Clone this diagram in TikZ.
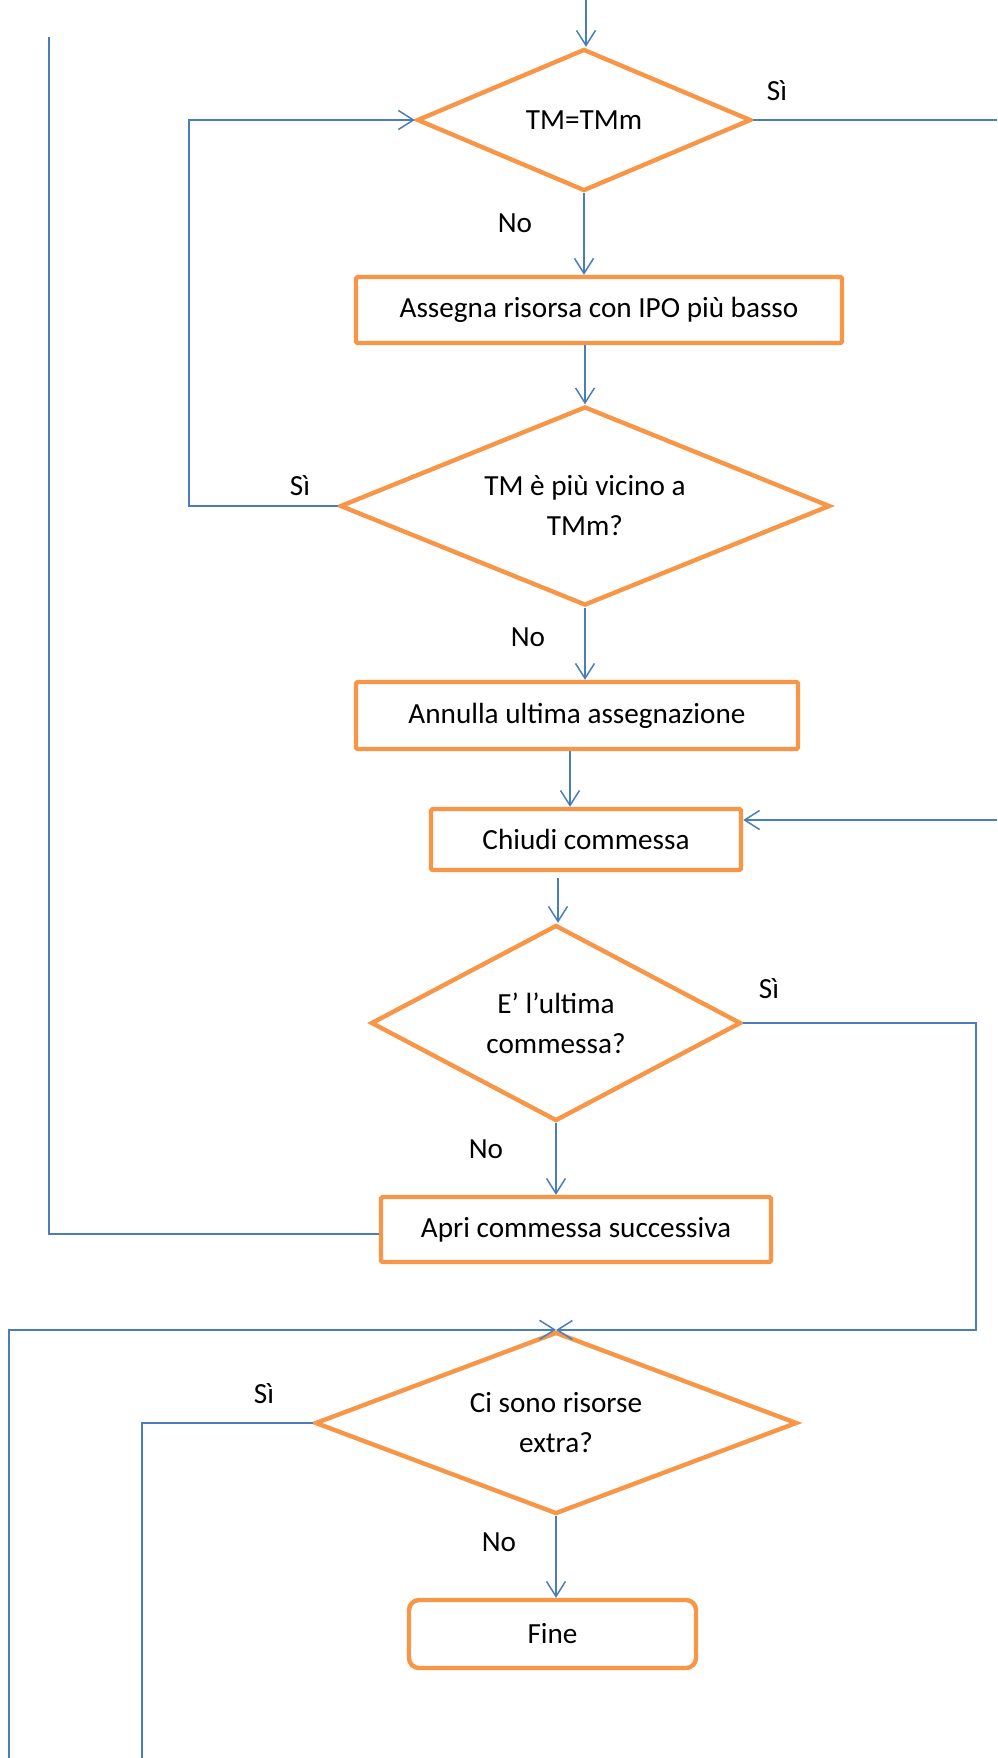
\documentclass[tikz,border=0pt]{standalone}
\usepackage{fontspec}
\setmainfont{Carlito}
\usetikzlibrary{shapes.geometric,arrows.meta,calc}
\definecolor{boxorange}{HTML}{F79646}
\definecolor{linkblue}{HTML}{4A7EBB}
\begin{document}
\begin{tikzpicture}[x=0.5pt,y=-0.5pt,
  every node/.style={font=\fontsize{14.6}{20}\selectfont},
  stepbox/.style={draw=boxorange, line width=2.2pt, rectangle, rounded corners=0.8pt, inner sep=0pt, align=center},
  decision/.style={draw=boxorange, line width=2.2pt, diamond, inner sep=0pt, align=center},
  endbox/.style={stepbox, rounded corners=5pt},
  link/.style={draw=linkblue, line width=0.75pt},
  arrow/.style={link, -{Straight Barb[length=7.5pt,width=9.5pt]}},
  tag/.style={inner sep=0pt}
]
\useasboundingbox (0,0) rectangle (997,1758);

% flow steps
\node[decision, shape aspect=2.35, minimum width=167pt, minimum height=71pt] (d1) at (584,120) {TM=TMm};
\node[stepbox, minimum width=243pt, minimum height=33pt] (r1) at (599,310) {Assegna risorsa con IPO più basso};
\node[decision, shape aspect=2.46, minimum width=245pt, minimum height=99.5pt] (d2) at (585,506) {TM è più vicino a\\TMm?};
\node[stepbox, minimum width=221pt, minimum height=33.5pt] (r2) at (577,715.5) {Annulla ultima assegnazione};
\node[stepbox, minimum width=155pt, minimum height=30.5pt] (r3) at (586,839.5) {Chiudi commessa};
\node[decision, shape aspect=1.89, minimum width=185pt, minimum height=98pt] (d3) at (556,1023) {E’ l’ultima\\commessa?};
\node[stepbox, minimum width=195pt, minimum height=32.5pt] (r4) at (576,1229.5) {Apri commessa successiva};
\node[decision, shape aspect=2.65, minimum width=241pt, minimum height=91pt] (d4) at (556,1423) {Ci sono risorse\\extra?};
\node[endbox, minimum width=143.5pt, minimum height=34pt] (fine) at (552.5,1634) {Fine};

% branch labels
\node[tag] (l1) at (777,91) {Sì};
\node[tag] (l2) at (515,223) {No};
\node[tag] (l3) at (300,486) {Sì};
\node[tag] (l4) at (528,637) {No};
\node[tag] (l5) at (769,989) {Sì};
\node[tag] (l6) at (486,1149) {No};
\node[tag] (l7) at (264,1394) {Sì};
\node[tag] (l8) at (499,1542) {No};

% free ends of the connectors
\coordinate (top) at (586,0);
\coordinate (edgeA) at (997,0);
\coordinate (rin) at (997,820);
\coordinate (edgeB) at (976,1330);
\coordinate (bl) at (9,1758);
\coordinate (bm) at (142,1758);
\coordinate (tl) at (49,37);

% connectors
\draw[arrow] (top) -- (top |- d1.north);
\draw[link] (d1.east) -- (d1.east -| edgeA);
\draw[arrow] (d1.south) -- (d1.south |- r1.north);
\draw[arrow] (d2.north |- r1.south) -- (d2.north);
\draw[arrow] (d2.west) -- ++(-149,0) |- (d1.west);
\draw[arrow] (d2.south) -- (d2.south |- r2.north);
\draw[arrow] ([xshift=-3.5pt]r2.south) -- ([xshift=-3.5pt]r2.south |- r3.north);
\draw[arrow] (rin) -- (rin -| r3.east);
\draw[arrow] ([xshift=-14pt,yshift=-3pt]r3.south) -- ([xshift=-14pt]r3.south |- d3.north);
\draw[arrow] (d3.south) -- (d3.south |- r4.north);
\draw[arrow] (d3.east) -| (edgeB) -- (edgeB -| d4.north);
\draw[arrow] (bl) |- (d4.north);
\draw[link] (d4.west) -| (bm);
\draw[arrow] (d4.south) -- (d4.south |- fine.north);
\draw[link] ([yshift=-2.25pt]r4.west) -| (tl);
\end{tikzpicture}
\end{document}
